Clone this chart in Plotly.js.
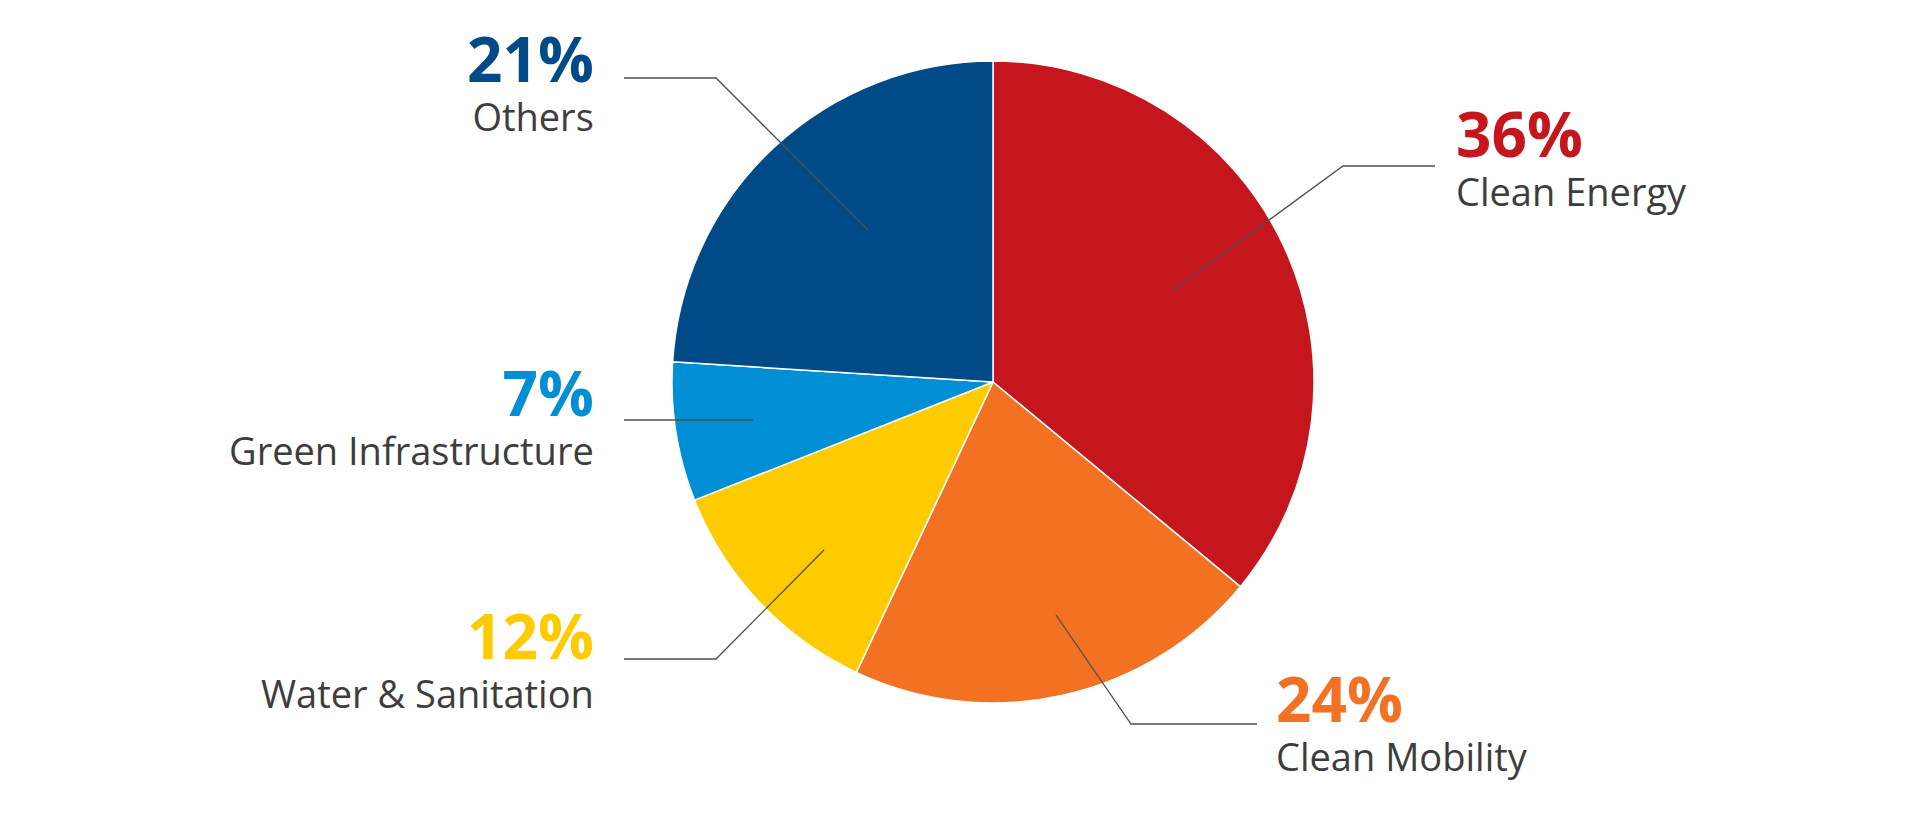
<!DOCTYPE html>
<html>
<head>
<meta charset="utf-8">
<script src="https://cdn.plot.ly/plotly-3.0.1.min.js"></script>
<style>
  html, body { margin: 0; padding: 0; background: #ffffff; }
  #chart { width: 1920px; height: 814px; }
</style>
</head>
<body>
<div id="chart"></div>
<script>
// ---- data ----
const categories = ["Clean Energy", "Clean Mobility", "Water & Sanitation", "Green Infrastructure", "Others"];
// percentages printed on the labels
const labelShares = [36, 24, 12, 7, 21];
// wedge sizes as drawn in the picture
const sliceShares = [36, 21, 12, 7, 24];
const colors = ["#C4161C", "#F27122", "#FECB00", "#008FD5", "#004A87"];

// ---- layout config (pixel positions of labels and leader lines) ----
const W = 1920, H = 814;
const px = (x) => x / W;
const py = (y) => 1 - y / H;

const labelCfg = [
  { side: "left",  x: 1454, y: 154, line: [[1435,166],[1343,166],[1172,291]] },
  { side: "left",  x: 1274, y: 719, line: [[1257,724],[1131,724],[1056,615]] },
  { side: "right", x: 596,  y: 656, line: [[624,659],[716,659],[824,550]] },
  { side: "right", x: 596,  y: 413, line: [[624,420],[753,420]] },
  { side: "right", x: 596,  y: 79,  line: [[624,78],[716,78],[868,230]] }
];

const annotations = [];
const shapes = [];
categories.forEach((cat, i) => {
  const c = labelCfg[i];
  const xa = c.side === "left" ? "left" : "right";
  annotations.push({
    xref: "paper", yref: "paper", x: px(c.x), y: py(c.y),
    xanchor: xa, yanchor: "middle", align: xa, showarrow: false,
    text: "<span style='font-size:62px;color:" + colors[i] + "'><b>" + labelShares[i] + "%</b></span><br>" + cat,
    font: { family: "Open Sans, sans-serif", size: 38, color: "#3d3d3d" }
  });
  const path = c.line.map((p, k) => (k === 0 ? "M" : "L") + px(p[0]) + "," + py(p[1])).join(" ");
  shapes.push({
    type: "path", xref: "paper", yref: "paper", path: path,
    line: { color: "#4f4f4f", width: 1.3 }, layer: "above"
  });
});

const cx = 993, cy = 382, R = 321;
const trace = {
  type: "pie",
  labels: categories,
  values: sliceShares,
  sort: false,
  direction: "clockwise",
  rotation: 0,
  textinfo: "none",
  hoverinfo: "label",
  marker: { colors: colors, line: { color: "#ffffff", width: 1.5 } },
  domain: { x: [px(cx - R), px(cx + R)], y: [py(cy + R), py(cy - R)] },
  showlegend: false
};

const layout = {
  width: W, height: H,
  margin: { l: 0, r: 0, t: 0, b: 0 },
  paper_bgcolor: "#ffffff",
  plot_bgcolor: "#ffffff",
  showlegend: false,
  annotations: annotations,
  shapes: shapes
};

Plotly.newPlot("chart", [trace], layout, { displayModeBar: false, staticPlot: true });
</script>
</body>
</html>
